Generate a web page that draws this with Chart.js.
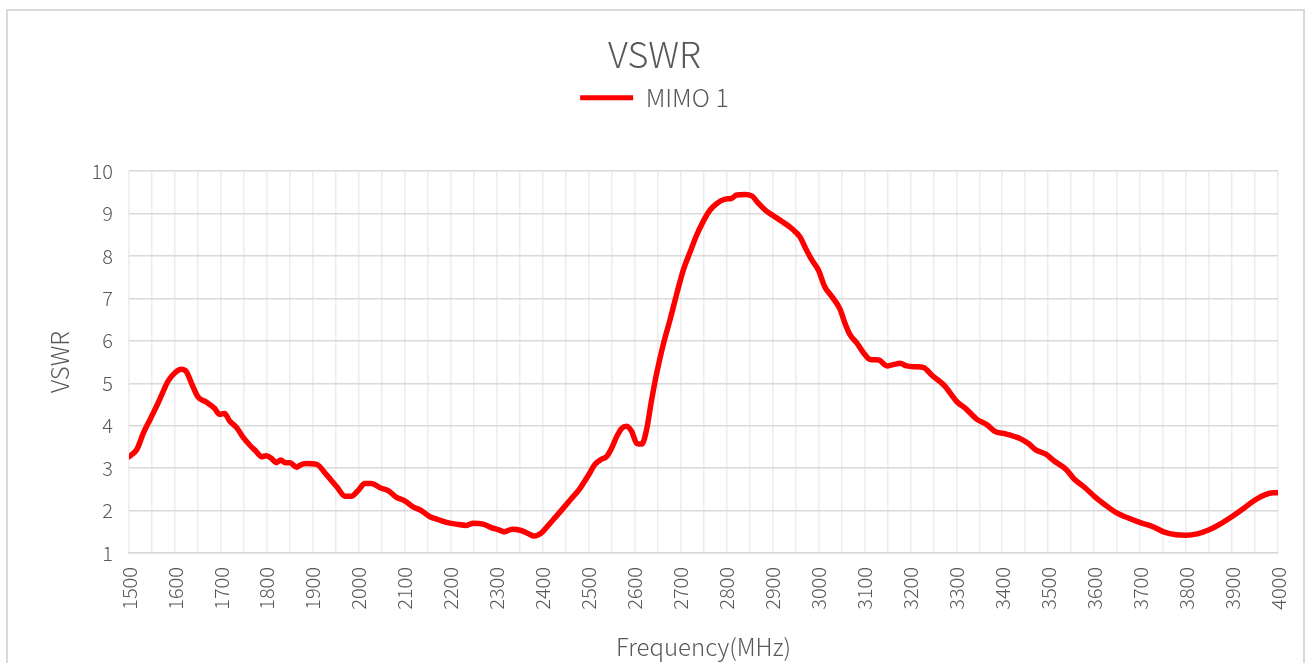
<!DOCTYPE html>
<html>
<head>
<meta charset="utf-8">
<script src="https://cdn.jsdelivr.net/npm/chart.js@4.4.1/dist/chart.umd.min.js"></script>
<style>
  html, body { margin: 0; padding: 0; background: #fff; overflow: hidden; }
  #frame { position: absolute; left: 6px; top: 9px; width: 1299px; height: 700px; border: 2px solid #d9d9d9; box-sizing: border-box; }
  #wrap { position: absolute; left: 0; top: 0; width: 1309px; height: 663px; }
</style>
</head>
<body>
<div id="frame"></div>
<div id="wrap"><canvas id="chart" width="1309" height="663"></canvas></div>
<script>
// frequency (MHz) and VSWR
const freqMHz = [
  1500, 1517, 1531, 1545, 1550, 1563, 1574, 1585, 1600, 1614, 1625, 1636, 1650, 1668, 1686, 1697,
  1708, 1719, 1734, 1748, 1763, 1777, 1788, 1799, 1810, 1820, 1830, 1840, 1850, 1865, 1872, 1886,
  1908, 1930, 1952, 1970, 1984, 1999, 2013, 2028, 2046, 2064, 2082, 2100, 2118, 2136, 2154, 2172,
  2191, 2212, 2234, 2249, 2270, 2288, 2306, 2316, 2334, 2353, 2368, 2382, 2398, 2416, 2438, 2460,
  2481, 2500, 2514, 2528, 2539, 2550, 2561, 2572, 2583, 2594, 2605, 2616, 2626, 2637, 2648, 2663,
  2677, 2692, 2706, 2721, 2735, 2750, 2764, 2779, 2797, 2811, 2822, 2840, 2855, 2869, 2887, 2902,
  2920, 2942, 2960, 2974, 2985, 3000, 3014, 3029, 3047, 3058, 3069, 3083, 3098, 3113, 3131, 3149,
  3163, 3178, 3192, 3211, 3229, 3247, 3273, 3302, 3320, 3345, 3367, 3385, 3403, 3428, 3440, 3457,
  3473, 3495, 3513, 3539, 3557, 3579, 3601, 3622, 3648, 3673, 3702, 3728, 3753, 3778, 3800, 3824,
  3849, 3874, 3900, 3925, 3950, 3971, 3989, 4000
];
const vswrMimo1 = [
  3.27, 3.44, 3.82, 4.13, 4.24, 4.53, 4.80, 5.05, 5.25, 5.33, 5.27, 5.00, 4.68, 4.56, 4.41, 4.27,
  4.29, 4.11, 3.96, 3.73, 3.54, 3.39, 3.27, 3.29, 3.23, 3.13, 3.19, 3.13, 3.13, 3.02, 3.07, 3.11,
  3.09, 2.84, 2.56, 2.34, 2.34, 2.48, 2.64, 2.64, 2.54, 2.47, 2.31, 2.23, 2.09, 2.00, 1.86, 1.79,
  1.72, 1.68, 1.65, 1.70, 1.68, 1.60, 1.54, 1.50, 1.56, 1.53, 1.46, 1.40, 1.48, 1.70, 1.97, 2.25,
  2.52, 2.84, 3.09, 3.21, 3.27, 3.47, 3.74, 3.94, 3.99, 3.86, 3.58, 3.57, 3.90, 4.60, 5.23, 5.94,
  6.49, 7.12, 7.67, 8.10, 8.49, 8.83, 9.08, 9.24, 9.34, 9.36, 9.44, 9.45, 9.42, 9.25, 9.06, 8.95,
  8.82, 8.65, 8.45, 8.14, 7.92, 7.67, 7.27, 7.05, 6.75, 6.41, 6.14, 5.96, 5.72, 5.56, 5.55, 5.41,
  5.44, 5.47, 5.41, 5.39, 5.37, 5.19, 4.96, 4.56, 4.41, 4.15, 4.02, 3.86, 3.82, 3.74, 3.69, 3.58,
  3.43, 3.33, 3.17, 2.97, 2.74, 2.55, 2.33, 2.15, 1.95, 1.83, 1.71, 1.62, 1.49, 1.43, 1.42, 1.45,
  1.54, 1.68, 1.86, 2.05, 2.25, 2.37, 2.42, 2.42
];
const seriesName = 'MIMO 1';
const chartTitle = 'VSWR';
const xTitle = 'Frequency(MHz)';
const yTitle = 'VSWR';
const xMin = 1500, xMax = 4000, xStep = 50, xLabelStep = 100;
const yMin = 1, yMax = 10, yStep = 1;

const textColor = '#595959';
const fontFamily = "'Noto Sans CJK SC', 'Noto Sans', sans-serif";

const points = freqMHz.map((f, i) => ({ x: f, y: vswrMimo1[i] }));

// extra room below the legend, like the Excel plot area gap
const legendGap = {
  id: 'legendGap',
  afterInit(chart) {
    const lg = chart.legend;
    const fit = lg.fit.bind(lg);
    lg.fit = function () { fit(); this.height += 51; };
  }
};

new Chart(document.getElementById('chart'), {
  type: 'line',
  data: {
    datasets: [{
      label: seriesName,
      data: points,
      borderColor: '#ff0000',
      backgroundColor: '#ff0000',
      borderWidth: 5.5,
      pointRadius: 0,
      cubicInterpolationMode: 'monotone',
      borderCapStyle: 'round',
      borderJoinStyle: 'round'
    }]
  },
  plugins: [legendGap],
  options: {
    responsive: false,
    animation: false,
    layout: { padding: { left: 0, right: 0, top: 0, bottom: 0 } },
    plugins: {
      title: {
        display: true,
        text: chartTitle,
        color: textColor,
        font: { family: fontFamily, size: 36, weight: 300 },
        padding: { top: 33, bottom: 0 }
      },
      legend: {
        display: true,
        labels: {
          color: textColor,
          font: { family: fontFamily, size: 25, weight: 300 },
          boxWidth: 53,
          boxHeight: 5,
          padding: 9,
          generateLabels: (chart) => {
            const items = Chart.defaults.plugins.legend.labels.generateLabels(chart);
            items.forEach(it => { it.lineWidth = 0; it.fillStyle = '#ff0000'; });
            return items;
          }
        }
      },
      tooltip: { enabled: false }
    },
    scales: {
      x: {
        type: 'linear',
        min: xMin,
        max: xMax,
        afterFit: (scale) => { scale.height = 110; scale.paddingLeft = 0; scale.paddingRight = 31; },
        ticks: {
          stepSize: xStep,
          autoSkip: false,
          minRotation: 90,
          maxRotation: 90,
          padding: 14,
          color: textColor,
          font: { family: fontFamily, size: 20, weight: 300 },
          callback: (v) => (v % xLabelStep === 0 ? String(v) : '')
        },
        grid: { color: '#ececec', lineWidth: 1.5, drawTicks: false },
        border: { display: true, color: '#d9d9d9', width: 1.5 },
        title: {
          display: true,
          text: xTitle,
          color: textColor,
          font: { family: fontFamily, size: 24, weight: 300 },
          padding: { top: 0, bottom: 2 }
        }
      },
      y: {
        min: yMin,
        max: yMax,
        afterFit: (scale) => { scale.width = 129; scale.paddingTop = 0; scale.paddingBottom = 0; },
        ticks: {
          stepSize: yStep,
          padding: 16,
          color: textColor,
          font: { family: fontFamily, size: 20, weight: 300 }
        },
        grid: { color: '#d9d9d9', lineWidth: 1.5, drawTicks: false },
        border: { display: false },
        title: {
          display: true,
          text: yTitle,
          color: textColor,
          font: { family: fontFamily, size: 24, weight: 300 },
          padding: { top: 45, bottom: 0 }
        }
      }
    }
  }
});
</script>
</body>
</html>
